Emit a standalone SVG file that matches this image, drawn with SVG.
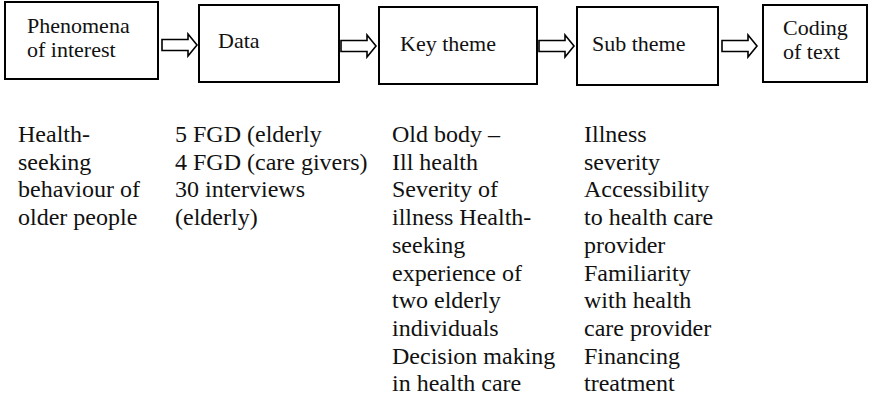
<svg xmlns="http://www.w3.org/2000/svg" width="885" height="398" viewBox="0 0 885 398">
<style>
.box{fill:#fff;stroke:#000;stroke-width:2}
.arr{fill:#fff;stroke:#000;stroke-width:1.6;stroke-linejoin:miter}
.t{font-family:'Liberation Serif','DejaVu Serif',serif;font-size:22px;fill:#111}
.b{font-family:'Liberation Serif','DejaVu Serif',serif;font-size:24px;fill:#111}
</style>
<defs>
<path id="ba" d="M0,-5.5 H26 V-11 L35,0 L26,11 V5.5 H0 Z"/>
</defs>
<rect width="885" height="398" fill="#fff"/>
<g id="connectors">
<use href="#ba" class="arr" x="162" y="45"/>
<use href="#ba" class="arr" x="341" y="46"/>
<use href="#ba" class="arr" x="539" y="46"/>
<use href="#ba" class="arr" x="722" y="46"/>
</g>
<g id="n1">
<rect class="box" x="5" y="2" width="153" height="77"/>
<text class="t" x="27" y="33" font-family="Liberation Serif">Phenomena</text>
<text class="t" x="27" y="57" font-family="Liberation Serif">of interest</text>
</g>
<g id="n2">
<rect class="box" x="199" y="5" width="140" height="77"/>
<text class="t" x="218" y="48">Data</text>
</g>
<g id="n3">
<rect class="box" x="379" y="7" width="158" height="77"/>
<text class="t" x="400" y="51">Key theme</text>
</g>
<g id="n4">
<rect class="box" x="577" y="7" width="141" height="78"/>
<text class="t" x="592" y="51">Sub theme</text>
</g>
<g id="n5">
<rect class="box" x="763" y="5" width="104" height="77"/>
<text class="t" x="783" y="35">Coding</text>
<text class="t" x="783" y="59">of text</text>
</g>
<g id="col1">
<text class="b" x="18" y="142">Health-</text>
<text class="b" x="18" y="169.7">seeking</text>
<text class="b" x="18" y="197.4">behaviour of</text>
<text class="b" x="18" y="225.1">older people</text>
</g>
<g id="col2">
<text class="b" x="175" y="142">5 FGD (elderly</text>
<text class="b" x="175" y="169.7">4 FGD (care givers)</text>
<text class="b" x="175" y="197.4">30 interviews</text>
<text class="b" x="175" y="225.1">(elderly)</text>
</g>
<g id="col3">
<text class="b" x="392" y="142">Old body –</text>
<text class="b" x="392" y="169.7">Ill health</text>
<text class="b" x="392" y="197.4">Severity of</text>
<text class="b" x="392" y="225.1">illness Health-</text>
<text class="b" x="392" y="252.8">seeking</text>
<text class="b" x="392" y="280.5">experience of</text>
<text class="b" x="392" y="308.2">two elderly</text>
<text class="b" x="392" y="335.9">individuals</text>
<text class="b" x="392" y="363.6">Decision making</text>
<text class="b" x="392" y="391.3">in health care</text>
</g>
<g id="col4">
<text class="b" x="584" y="142">Illness</text>
<text class="b" x="584" y="169.7">severity</text>
<text class="b" x="584" y="197.4">Accessibility</text>
<text class="b" x="584" y="225.1">to health care</text>
<text class="b" x="584" y="252.8">provider</text>
<text class="b" x="584" y="280.5">Familiarity</text>
<text class="b" x="584" y="308.2">with health</text>
<text class="b" x="584" y="335.9">care provider</text>
<text class="b" x="584" y="363.6">Financing</text>
<text class="b" x="584" y="391.3">treatment</text>
</g>
</svg>
